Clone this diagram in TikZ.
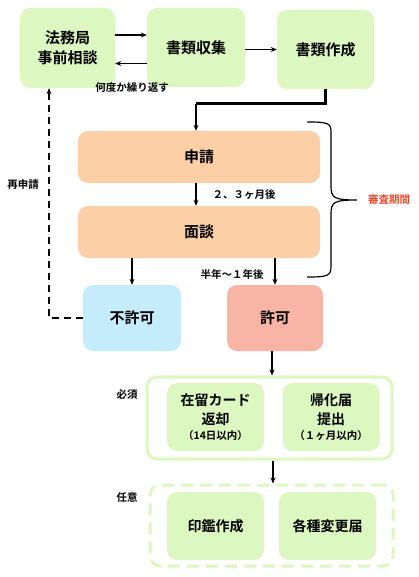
\documentclass[tikz,border=0pt]{standalone}
\usepackage{fontspec}
\setmainfont{Noto Sans CJK JP}[BoldFont={Noto Sans CJK JP Bold}]
\usetikzlibrary{positioning,arrows.meta}
\definecolor{kusa}{RGB}{221,247,192}
\definecolor{dai}{RGB}{253,207,166}
\definecolor{sora}{RGB}{197,236,250}
\definecolor{sake}{RGB}{248,181,166}
\definecolor{aka}{RGB}{232,72,42}

\begin{document}
\begin{tikzpicture}[x=1pt,y=-1pt,
    box/.style={rounded corners=10pt, inner sep=0pt, align=center, font=\bfseries\fontsize{15}{20}\selectfont},
    subbox/.style={box, fill=kusa, minimum width=97pt, minimum height=68pt, font=\bfseries\fontsize{14}{19}\selectfont},
    lbl/.style={inner sep=0pt, font=\bfseries\fontsize{10.5}{12}\selectfont},
    arr/.style={-{Stealth[length=6pt,width=5pt]}, line width=1.4pt}]
    \useasboundingbox (0,0) rectangle (419,577);

    % preparation
    \node[box, fill=kusa, minimum width=95pt, minimum height=80pt] (soudan) at (67.5,48) {法務局\\事前相談};
    \node[box, fill=kusa, minimum width=98pt, minimum height=79pt] (shushu) at (196,47.5) {書類収集};
    \node[box, fill=kusa, minimum width=97pt, minimum height=79pt] (sakusei) at (325.5,49.5) {書類作成};
    \draw[arr] ([yshift=13pt]soudan.east) -- ([yshift=13pt]soudan.east -| shushu.west);
    \draw[arr] ([yshift=-16pt]shushu.west) -- ([yshift=-16pt]shushu.west -| soudan.east);
    \draw[arr] (shushu.east |- sakusei.west) -- (sakusei.west);
    \node[lbl] (nando) at (132,88) {何度か繰り返す};

    % examination
    \node[box, fill=dai, minimum width=242pt, minimum height=52pt] (shinsei) at (199,157) {申請};
    \node[box, fill=dai, minimum width=242pt, minimum height=52pt] (mendan) at (199,232) {面談};
    \coordinate (turn) at (196,104);
    \draw[line width=3pt] (sakusei.south) |- (turn);
    \draw[arr] (turn) -- (turn |- shinsei.north);
    \draw[arr] (turn |- shinsei.south) -- (turn |- mendan.north);
    \node[lbl] (nikagetsu) at (244,195) {２、３ヶ月後};

    % brace
    \coordinate (tip) at (357,200);
    \draw[line width=1.2pt] (307,122) .. controls (328,122) and (331,123) .. (331,132) -- (331,186)
        .. controls (331,198) and (334,200) .. (tip) .. controls (334,200) and (331,202) .. (331,214)
        -- (331,266) .. controls (331,276) and (328,277) .. (307,277);
    \node[lbl, text=aka, right=11pt of tip] (shinsa) {審査期間};

    % result
    \node[box, fill=sora, minimum width=98pt, minimum height=66pt] (fukyoka) at (132,318) {不許可};
    \node[box, fill=sake, minimum width=96pt, minimum height=66pt] (kyoka) at (275,318) {許可};
    \draw[arr] (fukyoka.north |- mendan.south) -- (fukyoka.north);
    \draw[arr] (kyoka.north |- mendan.south) -- (kyoka.north);
    \node[lbl] (hantoshi) at (232,275) {半年〜１年後};
    \draw[dash pattern=on 7pt off 5pt, line width=1.8pt, -{Stealth[length=6pt,width=5pt]}]
        (fukyoka.west) -| ([xshift=-18.5pt]soudan.south);
    \node[lbl] (sai) at (23,185) {再申請};

    % after permission
    \node[box, draw=kusa, line width=3pt, minimum width=245pt, minimum height=82pt] (hissu) at (269.5,418) {};
    \node[subbox] (card) at (215.5,417) {在留カード\\返却\\[-3.5pt]{\fontsize{10.5}{13}\selectfont（14日以内）}};
    \node[subbox] (kika) at (331,417) {帰化届\\提出\\[-3.5pt]{\fontsize{10.5}{13}\selectfont（１ヶ月以内）}};
    \node[lbl] (hissulbl) at (127,395) {必須};
    \node[box, draw=kusa, line width=3pt, dash pattern=on 12pt off 7pt, minimum width=243pt, minimum height=81pt] (nini) at (271.5,525.5) {};
    \node[subbox] (inkan) at (215.5,526) {印鑑作成};
    \node[subbox] (henko) at (327.5,526) {各種変更届};
    \node[lbl] (ninilbl) at (127,497) {任意};
    \draw[arr] ([xshift=-3pt]kyoka.south) -- ([xshift=-3pt]kyoka.south |- hissu.north);
    \draw[arr] ([xshift=3.5pt]hissu.south) -- ([xshift=3.5pt]hissu.south |- nini.north);
\end{tikzpicture}
\end{document}
